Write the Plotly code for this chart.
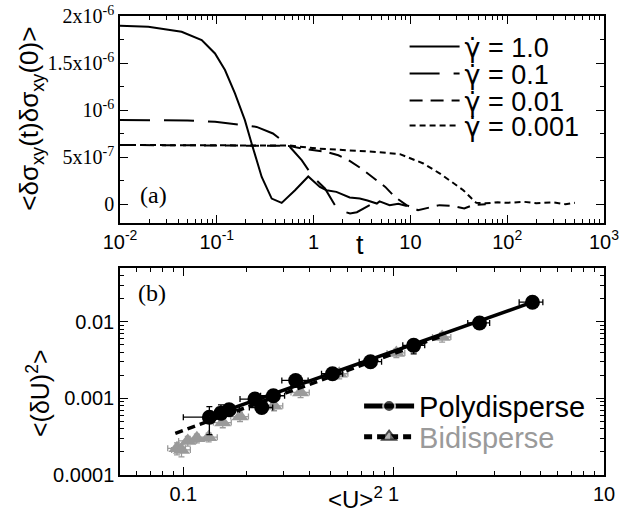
import plotly.graph_objects as go

# ---------------- panel (a): stress autocorrelation ----------------
t_g1 = [0.01, 0.0196, 0.0433, 0.0698, 0.0958, 0.1215, 0.154, 0.195, 0.229, 0.291, 0.369, 0.468,
        0.643, 0.881, 1.16, 1.36, 1.72, 2.36, 3.0, 3.6, 4.5, 4.8, 6.1, 7.5, 9.2]
c_g1 = [18.97e-7, 18.86e-7, 18.33e-7, 17.45e-7, 16.03e-7, 14.26e-7, 11.78e-7, 8.94e-7, 6.46e-7,
        2.9e-7, 0.6e-7, 0.14e-7, 1.49e-7, 2.95e-7, 1.84e-7, 1.49e-7, 1.31e-7, 0.71e-7, 0.6e-7,
        0.4e-7, 0.07e-7, 0.3e-7, -0.1e-7, 0.05e-7, -0.2e-7]

t_g01 = [0.01, 0.05, 0.096, 0.18, 0.258, 0.38, 0.548, 0.753, 0.99, 1.31, 1.66, 2.0, 2.38, 2.8, 3.26, 3.8]
c_g01 = [8.94e-7, 8.9e-7, 8.76e-7, 8.4e-7, 8.22e-7, 7.52e-7, 6.28e-7, 4.68e-7, 2.9e-7, 1.67e-7,
         -0.1e-7, -0.75e-7, -0.99e-7, -0.85e-7, -0.46e-7, -0.1e-7]

t_g001 = [0.01, 0.1, 0.3, 0.55, 0.78, 1.0, 1.36, 1.8, 2.3, 3.1, 4.1, 5.5, 6.9, 9.1, 12, 16, 20,
          28, 36, 44, 60]
c_g001 = [6.3e-7, 6.28e-7, 6.25e-7, 6.2e-7, 5.9e-7, 5.75e-7, 5.56e-7, 5.2e-7, 4.68e-7, 3.8e-7,
          2.84e-7, 1.84e-7, 0.78e-7, -0.1e-7, -0.64e-7, -0.35e-7, -0.1e-7, -0.2e-7, -0.46e-7,
          -0.1e-7, 0.0]

t_g0001 = [0.01, 0.1, 0.3, 0.57, 1.07, 2.38, 4.5, 7.8, 13.6, 20.2, 26.7, 35.2, 43, 48, 60, 80,
           100, 150, 200, 300, 400, 500]
c_g0001 = [6.3e-7, 6.28e-7, 6.27e-7, 6.23e-7, 5.93e-7, 5.75e-7, 5.55e-7, 5.32e-7, 4.33e-7,
           3.26e-7, 2.37e-7, 1.49e-7, 0.6e-7, 0.14e-7, 0.1e-7, 0.2e-7, 0.15e-7, 0.25e-7, 0.1e-7,
           0.2e-7, 0.0, 0.15e-7]

GDOT = "<span style='font-family:DejaVu Sans'>γ̇</span>"
series_a = [
    (GDOT + " = 1.0", t_g1, c_g1, "solid", "legend", 0.9325),
    (GDOT + " = 0.1", t_g01, c_g01, "30px,14px", "legend3", 0.8735),
    (GDOT + " = 0.01", t_g001, c_g001, "13px,8px", "legend4", 0.8147),
    (GDOT + " = 0.001", t_g0001, c_g0001, "6px,4px", "legend5", 0.7603),
]

xa_tickvals = [0.01, 0.1, 1, 10, 100, 1000]
xa_ticktext = ["10<sup>-2</sup>", "10<sup>-1</sup>", "1", "10", "10<sup>2</sup>", "10<sup>3</sup>"]
ya_tickvals = [0, 5e-7, 1e-6, 1.5e-6, 2e-6]
ya_ticktext = ["0", "5x10<sup>-7</sup>", "10<sup>-6</sup>", "1.5x10<sup>-6</sup>", "2x10<sup>-6</sup>"]

# ---------------- panel (b): energy fluctuations ----------------
poly_x = [0.133, 0.151, 0.165, 0.219, 0.236, 0.268, 0.342, 0.512, 0.776, 1.245, 2.56, 4.57]
poly_y = [0.000567, 0.00064, 0.000708, 0.000976, 0.000759, 0.00108, 0.00171, 0.00209, 0.0030,
          0.0049, 0.0096, 0.0179]
poly_xerr_p = [0.02, 0.02, 0.02, 0.03, 0.03, 0.035, 0.05, 0.06, 0.1, 0.16, 0.3, 0.55]
poly_xerr_m = [0.033, 0.02, 0.02, 0.033, 0.03, 0.035, 0.048, 0.058, 0.09, 0.14, 0.31, 0.62]
poly_yerr_p = [0.00021, 0.00018, 0.0001, 0.0001, 0.0001, 0.00012, 0.0002, 0.0002, 0.0003, 0.0005,
               0.0008, 0.0015]
poly_yerr_m = [0.00023, 0.0001, 0.0001, 0.0001, 0.0001, 0.00012, 0.0002, 0.0002, 0.0003, 0.0011,
               0.0008, 0.0015]

bi_x = [0.0933, 0.098, 0.105, 0.116, 0.132, 0.154, 0.186, 0.270, 0.361, 0.551, 1.03, 1.70]
bi_y = [0.000223, 0.000212, 0.000278, 0.000302, 0.000311, 0.000483, 0.000578, 0.000798, 0.00119,
        0.00209, 0.0039, 0.0063]
bi_xerr = [0.009, 0.01, 0.01, 0.012, 0.013, 0.015, 0.018, 0.027, 0.036, 0.055, 0.1, 0.17]
bi_yerr = [0.00004, 0.00004, 0.00004, 0.00004, 0.00004, 0.00007, 0.00008, 0.00011, 0.00017,
           0.0003, 0.0005, 0.0009]

poly_fit_x = [0.133, 4.57]
poly_fit_y = [0.00058, 0.0179]
bi_fit_x = [0.0916, 1.7]
bi_fit_y = [0.00035, 0.0065]

xb_tickvals = [0.1, 1, 10]
xb_ticktext = ["0.1", "1", "10"]
yb_tickvals = [0.0001, 0.001, 0.01]
yb_ticktext = ["0.0001", "0.001", "0.01"]

GRAY = "#9a9a9a"
SANS = "Liberation Sans"
SERIF = "Liberation Serif"

fig = go.Figure()

for name, tx, cy, dash, lg, _ in series_a:
    fig.add_trace(go.Scatter(x=tx, y=cy, mode="lines", name=name,
                             line=dict(color="black", width=2, dash=dash),
                             xaxis="x", yaxis="y", legend=lg))

# bidisperse data
fig.add_trace(go.Scatter(x=bi_x, y=bi_y, mode="markers", showlegend=False,
                         marker=dict(symbol="triangle-up", size=15, color=GRAY),
                         error_x=dict(type="data", array=bi_xerr, color=GRAY, thickness=1.3, width=3),
                         error_y=dict(type="data", array=bi_yerr, color=GRAY, thickness=1.3, width=3),
                         xaxis="x2", yaxis="y2"))
# polydisperse data
fig.add_trace(go.Scatter(x=poly_x, y=poly_y, mode="markers", showlegend=False,
                         marker=dict(symbol="circle", size=15, color="black"),
                         error_x=dict(type="data", array=poly_xerr_p, arrayminus=poly_xerr_m,
                                      color="black", thickness=1.3, width=3),
                         error_y=dict(type="data", array=poly_yerr_p, arrayminus=poly_yerr_m,
                                      color="black", thickness=1.3, width=3),
                         xaxis="x2", yaxis="y2"))
# fit lines (carry the legend entries)
fig.add_trace(go.Scatter(x=poly_fit_x, y=poly_fit_y, mode="lines+markers", name="Polydisperse",
                         line=dict(color="black", width=3.5),
                         marker=dict(symbol="circle", size=[0.01] * len(poly_fit_x), color="black"),
                         xaxis="x2", yaxis="y2", legend="legend2"))
fig.add_trace(go.Scatter(x=bi_fit_x, y=bi_fit_y, mode="lines+markers",
                         name="<span style='color:%s'>Bidisperse</span>" % GRAY,
                         line=dict(color="black", width=3.5, dash="8px,5px"),
                         marker=dict(symbol="triangle-up", size=[0.01] * len(bi_fit_x), color=GRAY),
                         xaxis="x2", yaxis="y2", legend="legend6"))

def decade_minors(lo, hi):
    vals = []
    d = lo
    while d < hi:
        for k in range(2, 10):
            vals.append(k * d)
        d *= 10
    return vals

axis_common = dict(showline=True, linecolor="black", linewidth=1.5, mirror="allticks",
                   ticks="inside", ticklen=8, tickwidth=1.3, tickcolor="black",
                   showgrid=False, zeroline=False, automargin=False,
                   ticklabeloverflow="allow")

def leg(x, y, size, constant=False):
    d = dict(x=x, y=y, xanchor="left", yanchor="middle", bgcolor="rgba(0,0,0,0)",
             font=dict(family=SANS, size=size, color="black"), tracegroupgap=0,
             itemwidth=50)
    if constant:
        d["itemsizing"] = "constant"
    return d

layout_legends = {}
for _, _, _, _, lg, ly in series_a:
    layout_legends[lg] = leg(0.588, ly, 27)
layout_legends["legend2"] = leg(0.494, 0.150, 29, True)
layout_legends["legend6"] = leg(0.494, 0.083, 29, True)

fig.update_layout(
    width=634, height=523,
    template="none",
    paper_bgcolor="white", plot_bgcolor="white",
    margin=dict(l=120, r=30, t=16, b=48),
    xaxis=dict(type="log", range=[-2, 3], domain=[0, 1], anchor="y",
               tickmode="array", tickvals=xa_tickvals, ticktext=xa_ticktext,
               tickfont=dict(family=SANS, size=20, color="black"),
               minor=dict(tickmode="array", tickvals=decade_minors(0.01, 1000), ticks="inside",
                          ticklen=4, tickwidth=1.1, tickcolor="black", showgrid=False),
               **axis_common),
    yaxis=dict(range=[-2e-7, 2.001e-6], domain=[0.549, 1], anchor="x",
               tickmode="array", tickvals=ya_tickvals, ticktext=ya_ticktext,
               tickfont=dict(family=SERIF, size=20, color="black"),
               minor=dict(tickmode="array", tickvals=[2.5e-7, 7.5e-7, 1.25e-6, 1.75e-6],
                          ticks="inside", ticklen=4, tickwidth=1.1, tickcolor="black",
                          showgrid=False),
               **axis_common),
    xaxis2=dict(type="log", range=[-1.30103, 1], domain=[0, 1], anchor="y2",
                tickmode="array", tickvals=xb_tickvals, ticktext=xb_ticktext,
                tickfont=dict(family=SANS, size=20, color="black"),
                minor=dict(tickmode="array", tickvals=decade_minors(0.01, 10), ticks="inside",
                           ticklen=4, tickwidth=1.1, tickcolor="black", showgrid=False),
                **axis_common),
    yaxis2=dict(type="log", range=[-4, -1.30103], domain=[0, 0.451], anchor="x2",
                tickmode="array", tickvals=yb_tickvals, ticktext=yb_ticktext,
                tickfont=dict(family=SANS, size=20, color="black"),
                minor=dict(tickmode="array", tickvals=decade_minors(0.0001, 0.1), ticks="inside",
                           ticklen=4, tickwidth=1.1, tickcolor="black", showgrid=False),
                **axis_common),
    annotations=[
        dict(text="(a)", x=0.07, y=0.61, xref="paper", yref="paper", showarrow=False,
             xanchor="center", yanchor="middle",
             font=dict(family=SERIF, size=24, color="black")),
        dict(text="(b)", x=0.066, y=0.3965, xref="paper", yref="paper", showarrow=False,
             xanchor="center", yanchor="middle",
             font=dict(family=SERIF, size=24, color="black")),
        dict(text="t", x=0.496, y=0.501, xref="paper", yref="paper", showarrow=False,
             xanchor="center", yanchor="middle",
             font=dict(family=SANS, size=27, color="black")),
        dict(text="&lt;U&gt;<sup>2</sup>", x=0.487, y=-0.050, xref="paper", yref="paper",
             showarrow=False, xanchor="center", yanchor="middle",
             font=dict(family=SANS, size=24, color="black")),
        dict(text="&lt;δσ<sub>xy</sub>(t)δσ<sub>xy</sub>(0)&gt;", x=-0.184, y=0.776,
             xref="paper", yref="paper", showarrow=False, textangle=-90,
             xanchor="center", yanchor="middle",
             font=dict(family=SANS, size=26, color="black")),
        dict(text="&lt;(δU)<sup>2</sup>&gt;", x=-0.169, y=0.179, xref="paper", yref="paper",
             showarrow=False, textangle=-90, xanchor="center", yanchor="middle",
             font=dict(family=SANS, size=25, color="black")),
    ],
    **layout_legends,
)

fig.write_html("out.html",
               config={"displayModeBar": False},
               post_script="document.body.style.margin='0';document.body.style.overflow='hidden';")
